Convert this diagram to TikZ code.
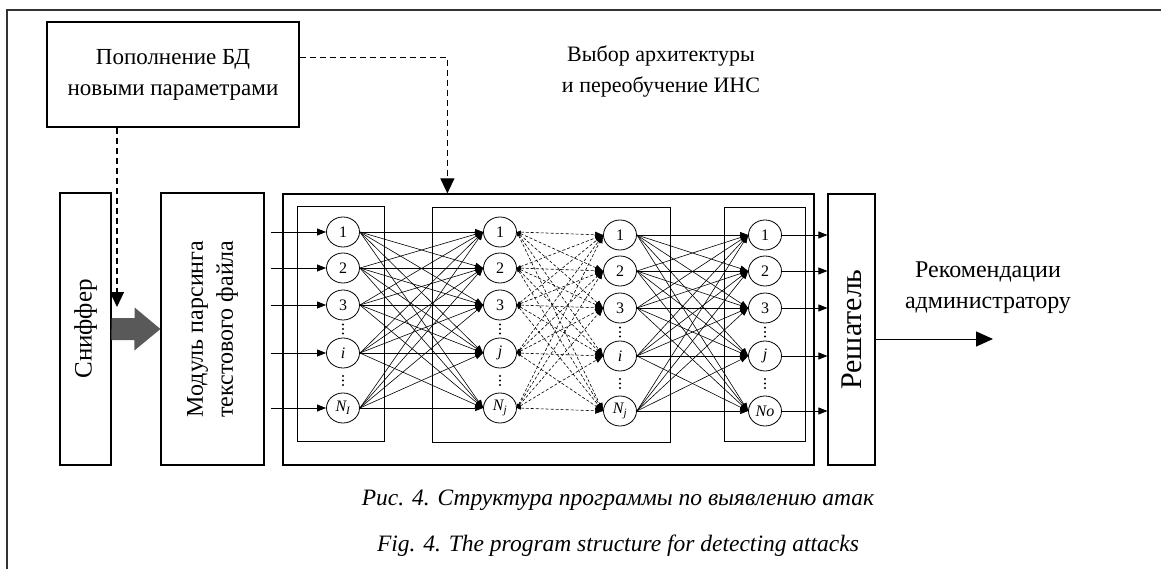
\documentclass[tikz,border=0pt]{standalone}
\usepackage{fontspec}
\setmainfont{Liberation Serif}
\usetikzlibrary{positioning,arrows.meta,shapes.geometric,calc}

\definecolor{fatgrey}{HTML}{595959}

\begin{document}
\begin{tikzpicture}[x=1pt,y=-1pt,
    blk/.style={rectangle,draw,line width=1.2pt,inner sep=0pt},
    layerbox/.style={draw,line width=0.8pt},
    neuron/.style={ellipse,draw,line width=0.8pt,minimum width=33pt,
        minimum height=30pt,inner sep=0pt,font=\fontsize{16}{16}\selectfont},
    link/.style={line width=0.6pt,-{Triangle[length=8pt,width=6pt]}},
    dlink/.style={line width=0.6pt,dash pattern=on 3pt off 2pt,
        {Triangle[length=4pt,width=3pt]}-{Triangle[length=8pt,width=6pt]}},
    feed/.style={line width=0.8pt,-{Triangle[length=9pt,width=7pt]}},
    ctrl/.style={line width=1.2pt,dash pattern=on 6pt off 4pt,
        -{Triangle[length=15pt,width=14pt]}},
    caption/.style={font=\fontsize{23.5}{23.5}\selectfont\itshape}]

  \useasboundingbox (0,0) rectangle (1161,569);
  \draw[line width=1.2pt,black!80] (1161,10) -- (7,10) -- (7,569);

  % main blocks
  \node[blk,minimum width=252pt,minimum height=105pt,align=center,
        font=\fontsize{23}{31}\selectfont] (db) at (173,74.5)
        {Пополнение БД\\новыми параметрами};
  \node[blk,minimum width=51pt,minimum height=272pt] (sniff) at (85.5,329) {};
  \node[blk,minimum width=103pt,minimum height=272pt] (parse) at (212.5,329) {};
  \node[blk,minimum width=531pt,minimum height=271pt] (net) at (548.5,329.5) {};
  \node[blk,minimum width=47pt,minimum height=271pt] (dec) at (851.5,329.5) {};

  \node[rotate=90,font=\fontsize{25}{25}\selectfont] (sniffT) at (sniff) {Сниффер};
  \node[rotate=90,align=center,font=\fontsize{24}{30}\selectfont] (parseT)
        at (parse) {Модуль парсинга\\текстового файла};
  \node[rotate=90,font=\fontsize{30}{30}\selectfont] (decT) at (dec) {Решатель};

  \node[align=center,font=\fontsize{22}{31}\selectfont] (arch) at (661,72)
        {Выбор архитектуры\\и переобучение ИНС};
  \node[align=center,font=\fontsize{24}{31}\selectfont] (advice) at (988,288)
        {Рекомендации\\администратору};

  % fat arrow sniffer -> parser
  \fill[fatgrey] (sniff.east) ++(0,-11) -- ++(23,0) -- ++(0,-10.5)
        -- (parse.west) -- ++(-26,21.5) -- ++(0,-10.5) -- ++(-23,0) -- cycle;

  % feedback lines
  \coordinate (drop) at (117,307);
  \draw[ctrl] (db.south -| drop) -- (drop);
  \draw[ctrl] (db.east) ++(0,-17) -| ($(net.north west)!0.31!(net.north east)$);

  % layer frames
  \draw[layerbox] (297,206) rectangle (384,441);
  \draw[layerbox] (432,207) rectangle (670,442);
  \draw[layerbox] (724,207) rectangle (805,441);

  % neurons
  \foreach \y/\k/\a/\b/\c/\d in {232/1/1/1/1/1, 268/2/2/2/2/2, 305/3/3/3/3/3,
      353/4/\textit{i}/\textit{j}/\textit{i}/\textit{j},
      408/5/\textit{N\textsubscript{I}}/\textit{N\textsubscript{j}}/\textit{N\textsubscript{j}}/\textit{No}}{
    \node[neuron] (a\k) at (343,\y) {\a};
    \node[neuron] (b\k) at (500,\y) {\b};
    \node[neuron] (c\k) at (620,\y+3) {\c};
    \node[neuron] (d\k) at (765,\y+3) {\d};
  }
  % dots for skipped neurons
  \foreach \l in {a,b,c,d}
    \foreach \p/\q in {3/4,4/5}
      \foreach \s in {-4.5,0,4.5}
        \fill ($(\l\p)!0.5!(\l\q)$) ++(0,\s) circle (1.1pt);

  % inputs and outputs
  \foreach \k in {1,...,5}{
    \coordinate (src\k) at (271,0 |- a\k);
    \draw[feed] (src\k) -- (a\k.west);
    \draw[feed] (d\k.east) -- (dec.west |- d\k);
  }

  % connections between layers
  \foreach \i in {1,...,5}
    \foreach \j in {1,...,5}{
      \draw[link] (a\i.east) -- (b\j.west);
      \draw[dlink] (b\i.east) -- (c\j.west);
      \draw[link] (c\i.east) -- (d\j.west);
    }

  \coordinate (out) at (993,339);
  \draw[line width=1pt,-{Triangle[length=17pt,width=15pt]}]
        (dec.east |- out) -- (out);

  \node[caption] (capru) at (618,500) {Рис. 4. Структура программы по выявлению атак};
  \node[caption] (capen) at (618,546) {Fig. 4. The program structure for detecting attacks};
\end{tikzpicture}
\end{document}
